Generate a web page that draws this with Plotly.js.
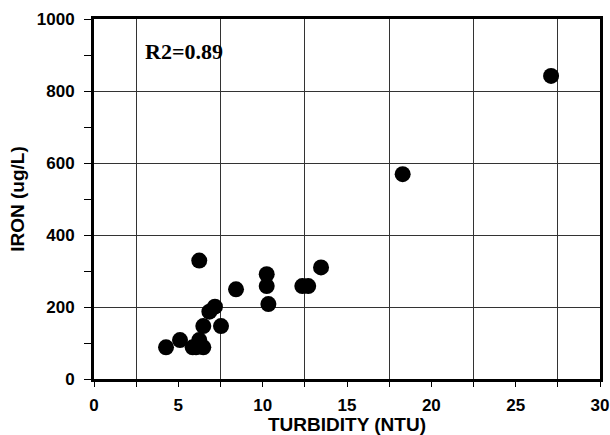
<!DOCTYPE html>
<html>
<head>
<meta charset="utf-8">
<script src="https://cdn.plot.ly/plotly-3.0.1.min.js"></script>
<style>html,body{margin:0;padding:0;background:#fff;}#chart{width:610px;height:435px;}</style>
</head>
<body>
<div id="chart"></div>
<script>
// Data
const turbidity = [4.27, 5.1, 5.85, 6.05, 6.24, 6.48, 6.24, 6.48, 6.84, 7.17, 7.53, 8.42, 10.24, 10.24, 10.34, 12.35, 12.7, 13.46, 18.3, 27.1];
const iron      = [88,   108, 88,   88,   108,  88,   329,  147,  187,  201,  147,  249,  291,   258,   208,   258,   258,  310,   569,  842];
const xTickVals = [0, 2.5, 5, 7.5, 10, 12.5, 15, 17.5, 20, 22.5, 25, 27.5, 30];
const xTickText = ['0', '', '5', '', '10', '', '15', '', '20', '', '25', '', '30'];
const yTickVals = [0, 100, 200, 300, 400, 500, 600, 700, 800, 900, 1000];
const yTickText = ['0', '', '200', '', '400', '', '600', '', '800', '', '1000'];
const annotationText = 'R2=0.89';

const tickFont = {family: 'Liberation Sans, Arial, sans-serif', size: 17, color: '#000', weight: 'bold'};
const titleFont = {family: 'Liberation Sans, Arial, sans-serif', size: 19, color: '#000', weight: 'bold'};

const traces = [{
  x: turbidity, y: iron, type: 'scatter', mode: 'markers',
  marker: {color: '#000', size: 16, line: {width: 0}},
  hoverinfo: 'skip', showlegend: false
}, {
  x: [null], y: [null], xaxis: 'x2', yaxis: 'y', type: 'scatter', showlegend: false
}, {
  x: [null], y: [null], xaxis: 'x', yaxis: 'y2', type: 'scatter', showlegend: false
}];

const layout = {
  width: 610, height: 435,
  margin: {l: 94, r: 10, t: 19, b: 56},
  paper_bgcolor: '#fff', plot_bgcolor: '#fff',
  showlegend: false,
  font: tickFont,
  xaxis: {
    range: [0, 30], tickmode: 'array', tickvals: xTickVals, ticktext: xTickText,
    ticks: 'outside', ticklen: 5, tickwidth: 1, tickcolor: '#000',
    ticklabelstandoff: 4, ticklabeloverflow: 'allow', automargin: false,
    showgrid: false, zeroline: false,
    showline: true, mirror: true, linecolor: '#000', linewidth: 3,
    tickfont: tickFont,
    title: {text: 'TURBIDITY (NTU)', font: titleFont, standoff: 0}
  },
  xaxis2: {
    range: [0, 30], overlaying: 'x', tick0: 2.5, dtick: 5,
    showgrid: true, gridcolor: '#333', gridwidth: 1,
    showticklabels: false, ticks: '', zeroline: false, showline: false
  },
  yaxis: {
    range: [0, 1000], tickmode: 'array', tickvals: yTickVals, ticktext: yTickText,
    ticks: 'outside', ticklen: 7, tickwidth: 1, tickcolor: '#000',
    ticklabelstandoff: 6, automargin: false,
    showgrid: false, zeroline: false,
    showline: true, mirror: true, linecolor: '#000', linewidth: 3,
    tickfont: tickFont,
    title: {text: 'IRON (ug/L)', font: titleFont, standoff: 8}
  },
  yaxis2: {
    range: [0, 1000], overlaying: 'y', tick0: 0, dtick: 200,
    showgrid: true, gridcolor: '#333', gridwidth: 1,
    showticklabels: false, ticks: '', zeroline: false, showline: false
  },
  annotations: [{
    x: 2.9, y: 911, xref: 'x', yref: 'y', xanchor: 'left', yanchor: 'middle',
    text: annotationText, showarrow: false,
    font: {family: 'Liberation Serif, Times New Roman, serif', size: 22, color: '#000', weight: 'bold'}
  }]
};

Plotly.newPlot('chart', traces, layout, {staticPlot: true, displayModeBar: false});
</script>
</body>
</html>
